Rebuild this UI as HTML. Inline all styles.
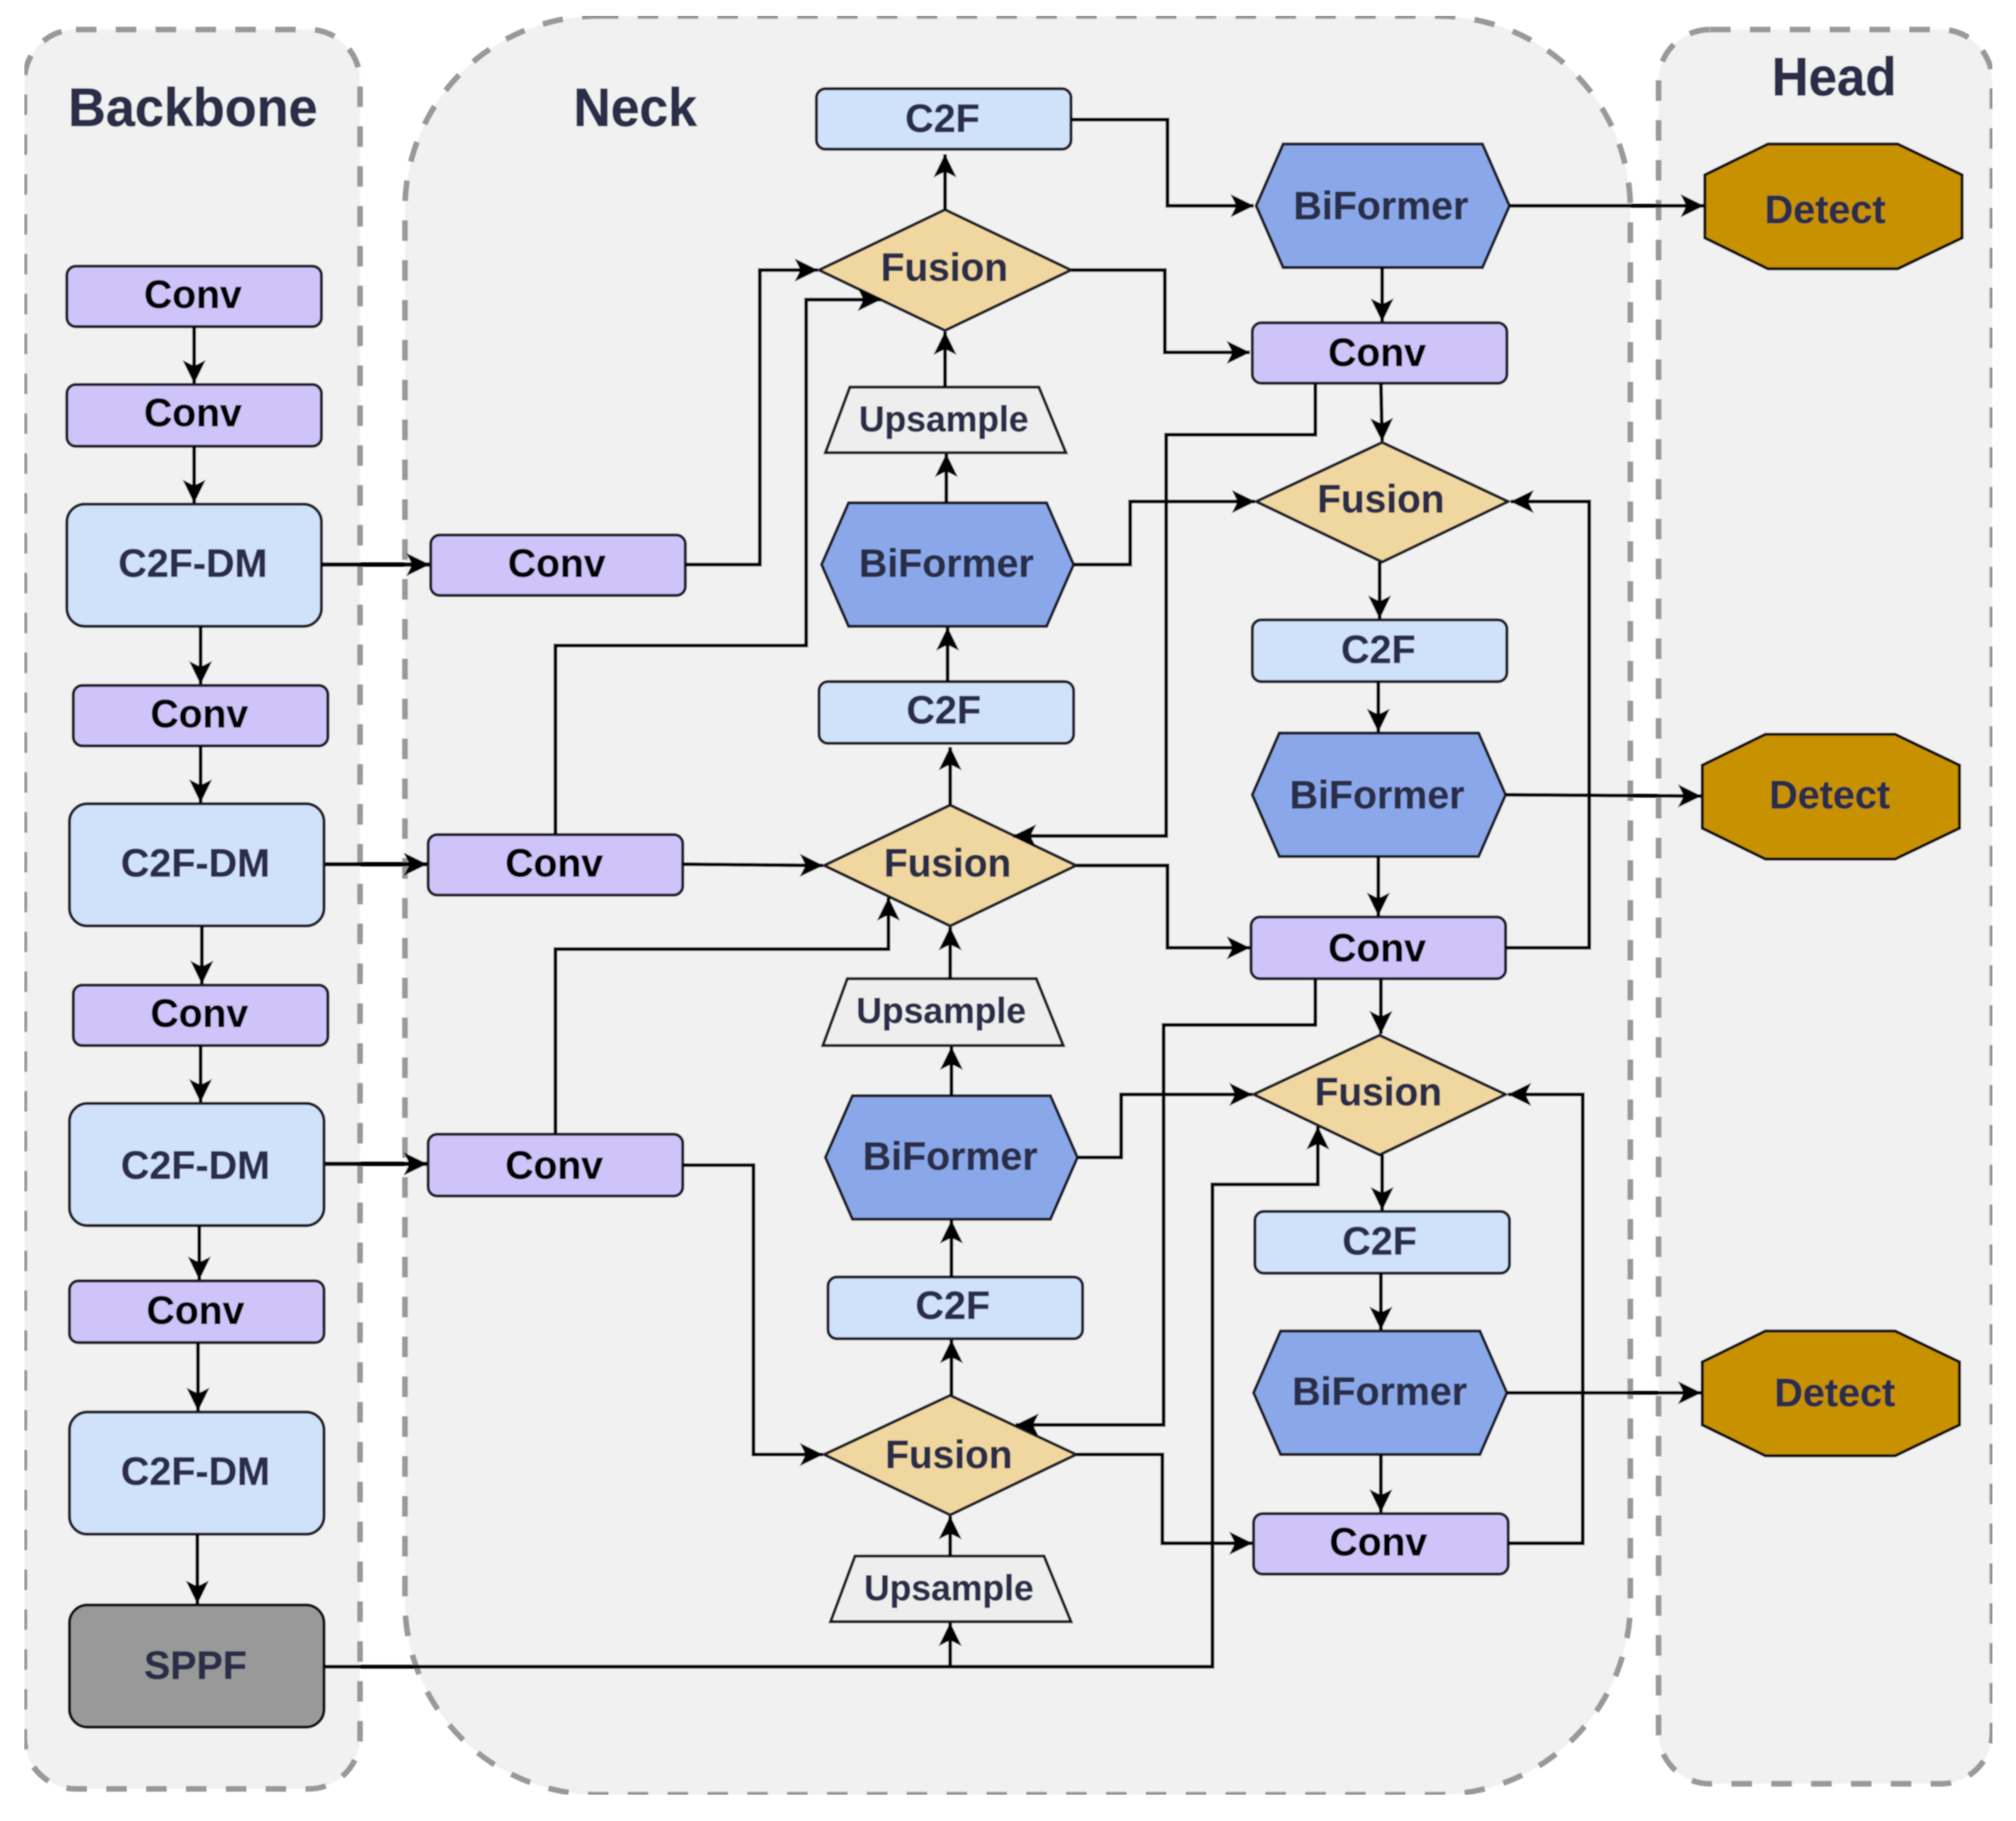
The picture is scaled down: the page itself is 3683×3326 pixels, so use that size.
<!DOCTYPE html>
<html>
<head>
<meta charset="utf-8">
<style>
html,body{margin:0;padding:0;background:#fff;width:3683px;height:3326px;overflow:hidden}
svg{display:block}
text{font-family:"Liberation Sans",Arial,sans-serif;font-weight:bold;fill:#2b2d48;stroke:#2b2d48;stroke-width:.35;text-anchor:middle;font-size:31px}
.k{fill:#000;stroke:#000}
.t{font-size:42px;stroke-width:.5}
.u{font-size:28px}
.g{fill:#f1f1f1;stroke:#999;stroke-width:4.4;stroke-dasharray:16 15}
.c{fill:#cfc4f9;stroke:#1c1c28;stroke-width:2.4}
.b{fill:#d0e1fa;stroke:#1c1c28;stroke-width:2.4}
.h{fill:#8aa8e9;stroke:#1c1c28;stroke-width:2.4}
.f{fill:#f0d7a0;stroke:#1c1c28;stroke-width:2.4}
.p{fill:#eeeeee;stroke:#1c1c28;stroke-width:2.4}
.d{fill:#c89106;stroke:#111;stroke-width:2.4}
.s{fill:#999;stroke:#111;stroke-width:2.4}
.l path{fill:none;stroke:#000;stroke-width:2.9;marker-end:url(#a)}
</style>
</head>
<body>
<svg width="3683" height="3326" viewBox="0 0 3683 3326" xmlns="http://www.w3.org/2000/svg">
<defs>
<marker id="a" markerUnits="userSpaceOnUse" markerWidth="24" markerHeight="24" refX="19" refY="12" orient="auto">
<path d="M1,3 L19.5,12 L1,21 L5.5,12 Z" fill="#000"/>
</marker>
<filter id="bl" x="0" y="0" width="100%" height="100%"><feGaussianBlur stdDeviation="0.45"/></filter>
</defs>
<g transform="scale(2.3489)" filter="url(#bl)">
<!-- groups -->
<rect class="g" x="19" y="23" width="261" height="1368" rx="40"/>
<rect class="g" x="315" y="12.5" width="953" height="1383" rx="150"/>
<rect class="g" x="1290" y="23" width="259.5" height="1364" rx="40"/>

<text class="t" x="150" y="98" textLength="194" lengthAdjust="spacingAndGlyphs">Backbone</text>
<text class="t" x="494" y="98" textLength="96" lengthAdjust="spacingAndGlyphs">Neck</text>
<text class="t" x="1426.5" y="74" textLength="97" lengthAdjust="spacingAndGlyphs">Head</text>

<!-- backbone nodes -->
<rect class="c" x="52" y="207" width="198" height="47" rx="7"/>
<rect class="c" x="52" y="299" width="198" height="48" rx="7"/>
<rect class="b" x="52" y="392" width="198" height="95" rx="14"/>
<rect class="c" x="57" y="533" width="198" height="47" rx="7"/>
<rect class="b" x="54" y="625" width="198" height="95" rx="14"/>
<rect class="c" x="57" y="766" width="198" height="47" rx="7"/>
<rect class="b" x="54" y="858" width="198" height="95" rx="14"/>
<rect class="c" x="54" y="996" width="198" height="48" rx="7"/>
<rect class="b" x="54" y="1098" width="198" height="95" rx="14"/>
<rect class="s" x="54" y="1248" width="198" height="95" rx="14"/>

<!-- neck left convs -->
<rect class="c" x="335" y="416" width="198" height="47" rx="7"/>
<rect class="c" x="333" y="649" width="198" height="47" rx="7"/>
<rect class="c" x="333" y="882" width="198" height="48" rx="7"/>

<!-- neck center column -->
<rect class="b" x="635" y="69" width="198" height="47" rx="7"/>
<polygon class="f" points="637,210 735,163 833,210 735,257"/>
<polygon class="p" points="661,301 808,301 829,352 642,352"/>
<polygon class="h" points="639,439 660,391 814,391 835,439 814,487 660,487"/>
<rect class="b" x="637" y="530" width="198" height="48" rx="7"/>
<polygon class="f" points="641,673 739,626 837,673 739,720"/>
<polygon class="p" points="659,761 806,761 827,813 640,813"/>
<polygon class="h" points="642,900 663,852 817,852 838,900 817,948 663,948"/>
<rect class="b" x="644" y="993" width="198" height="48" rx="7"/>
<polygon class="f" points="641,1131 739,1085 837,1131 739,1178"/>
<polygon class="p" points="665,1210 812,1210 833,1261 646,1261"/>

<!-- neck right column -->
<polygon class="h" points="977,160 998,112 1153,112 1174,160 1153,208 998,208"/>
<rect class="c" x="974" y="251" width="198" height="47" rx="7"/>
<polygon class="f" points="977,390 1075,344 1173,390 1075,437"/>
<rect class="b" x="974" y="482" width="198" height="48" rx="7"/>
<polygon class="h" points="974,618 995,570 1150,570 1171,618 1150,666 995,666"/>
<rect class="c" x="973" y="713" width="198" height="48" rx="7"/>
<polygon class="f" points="975,851 1073,805 1171,851 1073,898"/>
<rect class="b" x="976" y="942" width="198" height="48" rx="7"/>
<polygon class="h" points="975,1083 996,1035 1151,1035 1172,1083 1151,1131 996,1131"/>
<rect class="c" x="975" y="1177" width="198" height="47" rx="7"/>

<!-- head -->
<polygon class="d" points="1326,136 1375,112 1476,112 1526,136 1526,185 1476,209 1375,209 1326,185"/>
<polygon class="d" points="1324,595 1373,571 1474,571 1524,595 1524,644 1474,668 1373,668 1324,644"/>
<polygon class="d" points="1324,1059 1373,1035 1474,1035 1524,1059 1524,1108 1474,1132 1373,1132 1324,1108"/>

<!-- connectors -->
<g class="l">
<path d="M151,254V298"/>
<path d="M151,347V391"/>
<path d="M156,487V532"/>
<path d="M156,580V624"/>
<path d="M157,720V765"/>
<path d="M156,813V857"/>
<path d="M155,953V995"/>
<path d="M154,1044V1097"/>
<path d="M153.5,1193V1247"/>
<path d="M250,439H334" style="stroke-width:3.4"/>
<path d="M253,672H332" style="stroke-width:3.4"/>
<path d="M253,905H332" style="stroke-width:3.4"/>
<path d="M533,439H591V210H636"/>
<path d="M432,649V502H627V233H685"/>
<path d="M531,672L640,673"/>
<path d="M432,882V738H691V698"/>
<path d="M531,906H586V1131H640"/>
<path d="M252,1296H943V921H1025V876"/>
<path d="M739,1296V1262"/>
<path d="M739,1210V1179"/>
<path d="M740,1085V1042"/>
<path d="M740,993V949"/>
<path d="M740,852V814"/>
<path d="M739,761V721"/>
<path d="M739,626V581"/>
<path d="M737,530V488"/>
<path d="M736,391V353"/>
<path d="M735,301V258"/>
<path d="M735,163V120"/>
<path d="M833,93H908V160H975"/>
<path d="M833,210H906V274H972"/>
<path d="M1174,160H1325"/>
<path d="M1075,208V250"/>
<path d="M1074,298L1075,343"/>
<path d="M1023,298V338H907V650H788"/>
<path d="M835,439H879V390H976"/>
<path d="M1073,437V481"/>
<path d="M1072,530V569"/>
<path d="M1171,618L1323,619"/>
<path d="M1072,666V712"/>
<path d="M837,673H908V737H972"/>
<path d="M1171,737H1236V390H1175"/>
<path d="M1074,761V804"/>
<path d="M1023,761V797H905V1108H790"/>
<path d="M838,900H872V851H974"/>
<path d="M1075,898V941"/>
<path d="M1074,990V1034"/>
<path d="M1172,1083H1323"/>
<path d="M1074,1131V1176"/>
<path d="M837,1131H904V1200H974"/>
<path d="M1173,1200H1231V851H1173"/>
</g>

<!-- labels -->
<text class="k" x="150" y="239.500" textLength="76" lengthAdjust="spacingAndGlyphs">Conv</text>
<text class="k" x="150" y="331.500" textLength="76" lengthAdjust="spacingAndGlyphs">Conv</text>
<text x="150" y="448.500" textLength="116" lengthAdjust="spacingAndGlyphs">C2F-DM</text>
<text class="k" x="155" y="565.500" textLength="76" lengthAdjust="spacingAndGlyphs">Conv</text>
<text x="152" y="681.500" textLength="116" lengthAdjust="spacingAndGlyphs">C2F-DM</text>
<text class="k" x="155" y="798.500" textLength="76" lengthAdjust="spacingAndGlyphs">Conv</text>
<text x="152" y="916.500" textLength="116" lengthAdjust="spacingAndGlyphs">C2F-DM</text>
<text class="k" x="152" y="1029.500" textLength="76" lengthAdjust="spacingAndGlyphs">Conv</text>
<text x="152" y="1154.500" textLength="116" lengthAdjust="spacingAndGlyphs">C2F-DM</text>
<text x="152" y="1305.500" textLength="80" lengthAdjust="spacingAndGlyphs">SPPF</text>

<text class="k" x="433" y="448.500" textLength="76" lengthAdjust="spacingAndGlyphs">Conv</text>
<text class="k" x="431" y="681.500" textLength="76" lengthAdjust="spacingAndGlyphs">Conv</text>
<text class="k" x="431" y="916.500" textLength="76" lengthAdjust="spacingAndGlyphs">Conv</text>

<text x="733" y="102.500" textLength="58" lengthAdjust="spacingAndGlyphs">C2F</text>
<text x="734.5" y="218.500" textLength="99" lengthAdjust="spacingAndGlyphs">Fusion</text>
<text class="u" x="734" y="335.500" textLength="132" lengthAdjust="spacingAndGlyphs">Upsample</text>
<text x="736" y="448.500" textLength="136" lengthAdjust="spacingAndGlyphs">BiFormer</text>
<text x="734" y="562.500" textLength="58" lengthAdjust="spacingAndGlyphs">C2F</text>
<text x="737" y="681.500" textLength="99" lengthAdjust="spacingAndGlyphs">Fusion</text>
<text class="u" x="732" y="795.500" textLength="132" lengthAdjust="spacingAndGlyphs">Upsample</text>
<text x="739" y="909.500" textLength="136" lengthAdjust="spacingAndGlyphs">BiFormer</text>
<text x="741" y="1025.500" textLength="58" lengthAdjust="spacingAndGlyphs">C2F</text>
<text x="738" y="1141.500" textLength="99" lengthAdjust="spacingAndGlyphs">Fusion</text>
<text class="u" x="738" y="1244.500" textLength="132" lengthAdjust="spacingAndGlyphs">Upsample</text>

<text x="1074" y="170.500" textLength="136" lengthAdjust="spacingAndGlyphs">BiFormer</text>
<text class="k" x="1071" y="284.500" textLength="76" lengthAdjust="spacingAndGlyphs">Conv</text>
<text x="1074" y="398.500" textLength="99" lengthAdjust="spacingAndGlyphs">Fusion</text>
<text x="1072" y="515.500" textLength="58" lengthAdjust="spacingAndGlyphs">C2F</text>
<text x="1071" y="628.500" textLength="136" lengthAdjust="spacingAndGlyphs">BiFormer</text>
<text class="k" x="1071" y="747.500" textLength="76" lengthAdjust="spacingAndGlyphs">Conv</text>
<text x="1072" y="859.500" textLength="99" lengthAdjust="spacingAndGlyphs">Fusion</text>
<text x="1073" y="975.500" textLength="58" lengthAdjust="spacingAndGlyphs">C2F</text>
<text x="1073" y="1092.500" textLength="136" lengthAdjust="spacingAndGlyphs">BiFormer</text>
<text class="k" x="1072" y="1209.500" textLength="76" lengthAdjust="spacingAndGlyphs">Conv</text>

<text x="1419.5" y="173.500" textLength="94" lengthAdjust="spacingAndGlyphs">Detect</text>
<text x="1423" y="628.500" textLength="94" lengthAdjust="spacingAndGlyphs">Detect</text>
<text x="1427" y="1093.500" textLength="94" lengthAdjust="spacingAndGlyphs">Detect</text>
</g>
</svg>
</body>
</html>
